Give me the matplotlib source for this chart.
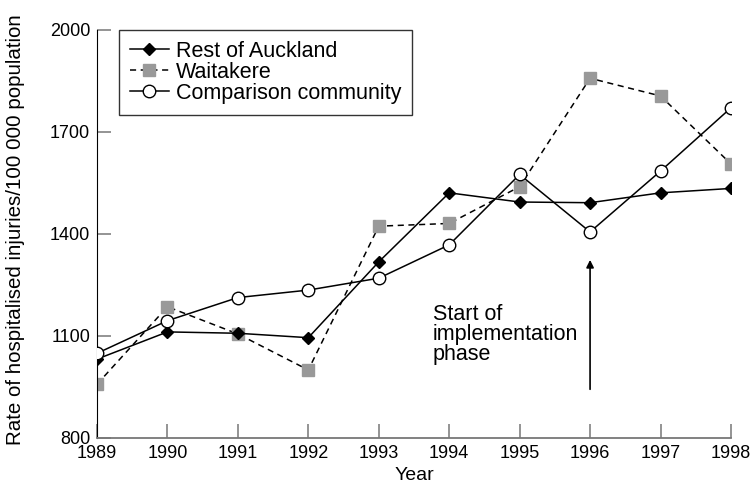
import matplotlib.pyplot as plt
import numpy as np

plt.rcParams['font.family'] = ['Liberation Sans', 'DejaVu Sans']

years = [1989, 1990, 1991, 1992, 1993, 1994, 1995, 1996, 1997, 1998]
rest_of_auckland = [1032, 1112, 1108, 1095, 1318, 1521, 1494, 1492, 1521, 1534]
waitakere = [958, 1186, 1106, 1000, 1423, 1431, 1539, 1858, 1806, 1606]
comparison = [1049, 1145, 1213, 1235, 1270, 1368, 1575, 1406, 1585, 1771]
yticks = [800, 1100, 1400, 1700, 2000]

fig = plt.figure(figsize=(7.52, 4.86), dpi=100)
ax = fig.add_axes([0.129, 0.0988, 0.843, 0.8395])

ax.plot(years, rest_of_auckland, color='black', lw=1.1, marker='D', ms=6.3,
        mfc='black', mec='black', label='Rest of Auckland', zorder=3)
ax.plot(years, waitakere, color='black', lw=1.1, ls=(0, (4, 3)), marker='s', ms=8,
        mfc='#999999', mec='#999999', label='Waitakere', zorder=2)
ax.plot(years, comparison, color='black', lw=1.1, marker='o', ms=9,
        mfc='white', mec='black', mew=1.0, label='Comparison community', zorder=4)

ax.set_xlim(1989, 1998)
ax.set_ylim(800, 2000)
ax.set_xticks(years)
ax.set_yticks(yticks)

for s in ['top', 'right']:
    ax.spines[s].set_visible(False)
ax.spines['left'].set_color('black')
ax.spines['bottom'].set_color('#777777')
ax.spines['bottom'].set_linewidth(1.3)
ax.tick_params(axis='both', direction='in', length=10, width=1.1, color='#777777',
               labelsize=13)
ax.tick_params(axis='x', pad=5)
ax.tick_params(axis='y', pad=5)

ax.set_xlabel('Year', fontsize=14, labelpad=4)
ax.set_ylabel('Rate of hospitalised injuries/100 000 population', fontsize=14.8)
ax.yaxis.set_label_coords(-0.113, 0.51)

leg = ax.legend(loc='upper left', bbox_to_anchor=(0.035, 1.0), borderaxespad=0,
                fontsize=15.5, frameon=True, fancybox=False, handlelength=1.8,
                handletextpad=0.35, labelspacing=0.0, borderpad=0.5)
leg.get_frame().set_edgecolor('black')
leg.get_frame().set_linewidth(1.0)

ax.annotate('', xy=(1996, 1332), xytext=(1996, 935),
            arrowprops=dict(arrowstyle='-|>', color='black', lw=1.2, mutation_scale=11))
ax.text(1993.77, 1195, 'Start of\nimplementation\nphase', fontsize=15.5,
        va='top', ha='left', linespacing=0.95)

fig.savefig('out.png', dpi=100)
